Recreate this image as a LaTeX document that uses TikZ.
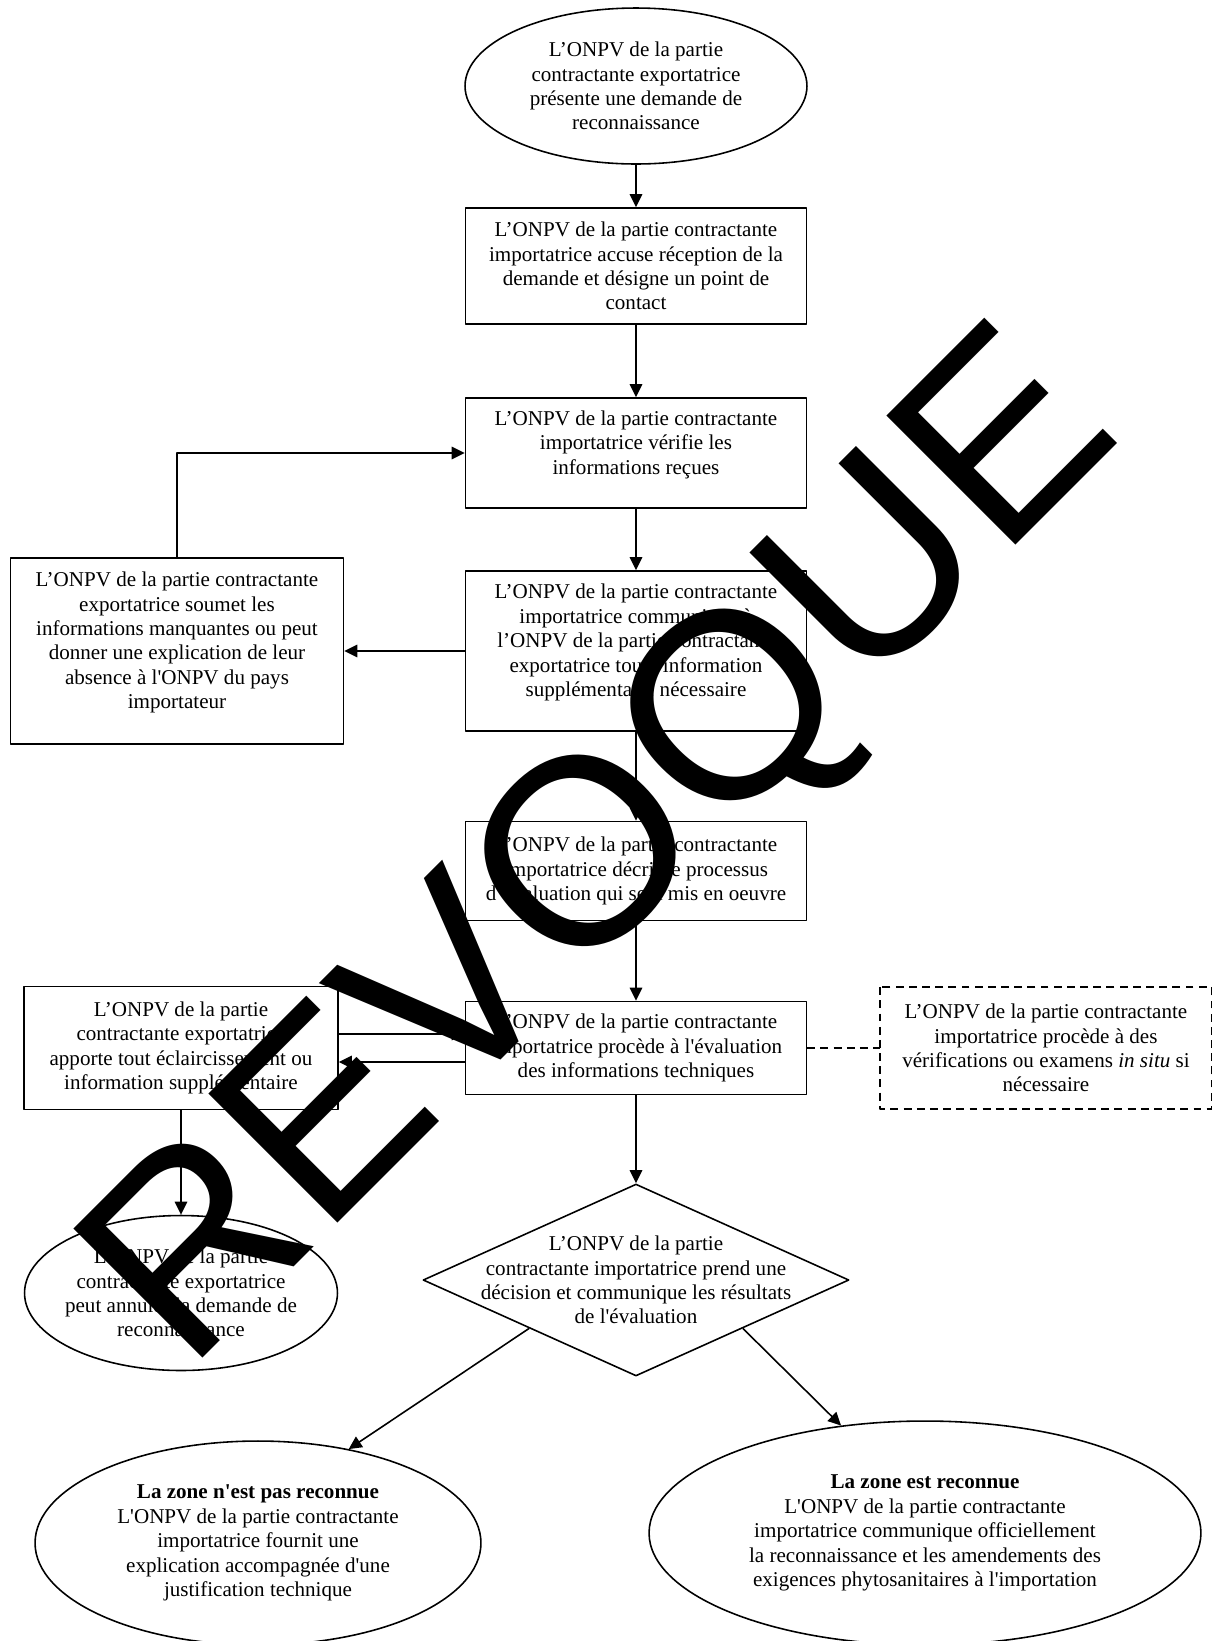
\documentclass[tikz,border=0pt]{standalone}
\usepackage{fontspec}
\setmainfont{Liberation Serif}[Ligatures=TeXOff]
\newfontfamily\markfont{Liberation Sans}
\usetikzlibrary{shapes.geometric,arrows.meta}
\begin{document}
\begin{tikzpicture}[x=0.02cm,y=-0.02cm,line join=round,
	font=\fontsize{12}{13.9}\selectfont,>={Triangle[length=0.26cm,width=0.25cm]},
	box/.style={draw,line width=0.9pt,rectangle,align=center,inner sep=2pt,minimum width=6.82cm},
	oval/.style={draw,line width=0.9pt,ellipse,align=center,inner xsep=-8pt,inner ysep=-4pt},
	decision/.style={draw,line width=0.9pt,diamond,inner sep=0pt,minimum width=8.52cm,minimum height=3.84cm},
	raised/.style={text depth=12pt},
	link/.style={line width=0.9pt,->},
	optional/.style={line width=0.9pt,dash pattern=on 4.5pt off 3pt}]
	\useasboundingbox (0,0) rectangle (1212,1641);
	\node[oval,minimum width=6.84cm,minimum height=3.12cm] (dem) at (636,86)
		{L’ONPV de la partie\\contractante exportatrice\\présente une demande de\\reconnaissance};
	\node[box,minimum height=2.32cm] (recv) at (636,266)
		{L’ONPV de la partie contractante\\importatrice accuse réception de la\\demande et désigne un point de\\contact};
	\node[box,raised,minimum height=2.2cm] (verif) at (636,453)
		{L’ONPV de la partie contractante\\importatrice vérifie les\\informations reçues};
	\node[box,raised,minimum height=3.2cm] (comm) at (636,651)
		{L’ONPV de la partie contractante\\importatrice communique à\\l’ONPV de la partie contractante\\exportatrice toute information\\supplémentaire nécessaire};
	\node[box,minimum height=1.98cm] (proc) at (636,871)
		{L’ONPV de la partie contractante\\importatrice décrit le processus\\d’évaluation qui sera mis en oeuvre};
	\node[box,minimum height=1.86cm] (eval) at (636,1048)
		{L’ONPV de la partie contractante\\importatrice procède à l'évaluation\\des informations techniques};
	\node[decision] (dec) at (636,1280) {};
	\node[align=center,inner sep=0pt] (dec text) at (dec)
		{L’ONPV de la partie\\contractante importatrice prend une\\décision et communique les résultats\\de l'évaluation};
	\node[box,raised,minimum width=6.66cm,minimum height=3.72cm] (manq) at (177,651)
		{L’ONPV de la partie contractante\\exportatrice soumet les\\informations manquantes ou peut\\donner une explication de leur\\absence à l'ONPV du pays\\importateur};
	\node[box,minimum width=6.28cm,minimum height=2.46cm] (eclair) at (181,1048)
		{L’ONPV de la partie\\contractante exportatrice\\apporte tout éclaircissement ou\\information supplémentaire};
	\node[oval,minimum width=6.26cm,minimum height=3.1cm] (annul) at (181,1293)
		{L’ONPV de la partie\\contractante exportatrice\\peut annuler la demande de\\reconnaissance};
	\node[box,draw=none,minimum width=6.6cm,minimum height=2.4cm] (insitu) at (1046,1048)
		{L’ONPV de la partie contractante\\importatrice procède à des\\vérifications ou examens \textit{in situ} si\\nécessaire};
	\draw[optional] (insitu.north west) rectangle (insitu.south east);
	\node[oval,minimum width=8.92cm,minimum height=4.08cm] (nrec) at (258,1543)
		{\textbf{La zone n'est pas reconnue}\\L'ONPV de la partie contractante\\importatrice fournit une\\explication accompagnée d'une\\justification technique};
	\node[oval,minimum width=11.04cm,minimum height=4.48cm] (rec) at (925,1533)
		{\textbf{La zone est reconnue}\\L'ONPV de la partie contractante\\importatrice communique officiellement\\la reconnaissance et les amendements des\\exigences phytosanitaires à l'importation};
	\draw[link] (dem) -- (recv);
	\draw[link] (recv) -- (verif);
	\draw[link] (verif) -- (comm);
	\draw[link] (comm) -- (proc);
	\draw[link] (proc) -- (eval);
	\draw[link] (eval) -- (dec);
	\draw[link] (comm) -- (manq);
	\draw[link] (manq) |- (verif);
	\draw[link] ([yshift=0.28cm]eclair.east) -- ([yshift=0.28cm]eval.west);
	\draw[link] ([yshift=-0.28cm]eval.west) -- ([yshift=-0.28cm]eclair.east);
	\draw[link] (eclair) -- (annul);
	\draw[optional] (eval) -- (insitu);
	\draw[link] (dec.south west) -- (nrec.46);
	\draw[link] (dec.south east) -- (rec.128);
	\node[font=\markfont\fontsize{151}{151}\selectfont,rotate=45,anchor=base west,inner sep=0pt] (mark) at (187,1374) {REVOQUE};
\end{tikzpicture}
\end{document}
